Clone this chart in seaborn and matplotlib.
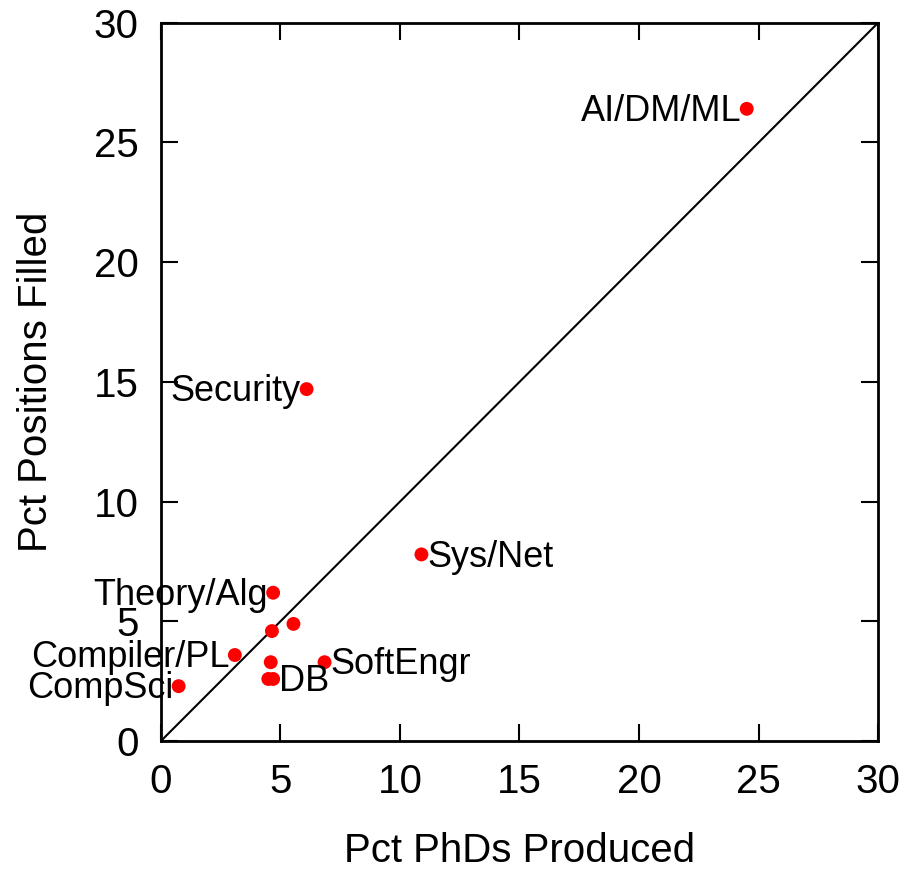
import numpy as np
import pandas as pd
from matplotlib import pyplot as plt
import seaborn as sns

# areas, pct phds produced vs pct positions filled
areas = ['AI/DM/ML', 'Security', 'Sys/Net', 'Theory/Alg', 'Graphics', 'Arch',
         'Compiler/PL', 'HCI', 'DB', 'DB2', 'SoftEngr', 'CompSci']
phds = [24.5, 6.1, 10.9, 4.7, 5.55, 4.65, 3.1, 4.6, 4.7, 4.5, 6.85, 0.75]
positions = [26.4, 14.7, 7.8, 6.2, 4.9, 4.6, 3.6, 3.3, 2.6, 2.6, 3.3, 2.3]

# label side: 'l' = text left of dot, 'r' = text right of dot, '' = no label
sides = ['l', 'l', 'r', 'l', '', '', 'l', '', 'r', '', 'r', 'l']
labels = ['AI/DM/ML', 'Security', 'Sys/Net', 'Theory/Alg', '', '',
          'Compiler/PL', '', 'DB', '', 'SoftEngr', 'CompSci']

df = pd.DataFrame({'area': areas, 'phds': phds, 'positions': positions})

sns.set_style('white')
plt.rcParams['font.family'] = ['Liberation Sans', 'DejaVu Sans']
plt.rcParams['text.color'] = 'black'
plt.rcParams['axes.labelcolor'] = 'black'
plt.rcParams['xtick.color'] = 'black'
plt.rcParams['ytick.color'] = 'black'

fig, ax = plt.subplots(figsize=(9.13, 8.69), dpi=100)
fig.subplots_adjust(left=0.176, right=0.962, top=0.974, bottom=0.147)

ax.plot([0, 30], [0, 30], color='black', lw=1.5, zorder=1)
sns.scatterplot(data=df, x='phds', y='positions', color='red', s=100,
                edgecolor='none', ax=ax, zorder=3)

for x, y, lab, side in zip(phds, positions, labels, sides):
    if not lab:
        continue
    if side == 'l':
        ax.annotate(lab, (x, y), xytext=(-4, -2), textcoords='offset points',
                    ha='right', va='center', fontsize=26)
    else:
        ax.annotate(lab, (x, y), xytext=(4, -2), textcoords='offset points',
                    ha='left', va='center', fontsize=26)

ax.set_xlim(0, 30)
ax.set_ylim(0, 30)
ax.set_xticks(range(0, 31, 5))
ax.set_yticks(range(0, 31, 5))
ax.tick_params(direction='in', length=12, width=1.5, labelsize=29, pad=16,
               top=True, right=True, bottom=True, left=True)
for sp in ax.spines.values():
    sp.set_linewidth(2)
    sp.set_color('black')
ax.set_xlabel('Pct PhDs Produced', fontsize=29, labelpad=22)
ax.set_ylabel('Pct Positions Filled', fontsize=29, labelpad=28)

plt.savefig('out.png')
